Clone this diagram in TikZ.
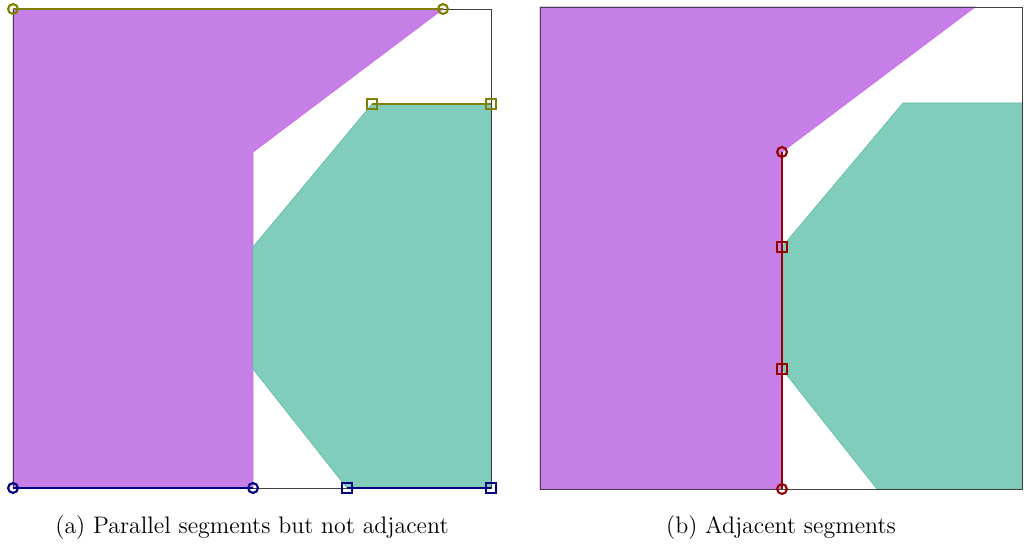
\documentclass[tikz,border=0pt]{standalone}
\usepackage{tikz}
\usetikzlibrary{positioning}

\definecolor{polyviolet}{RGB}{199,127,232}
\definecolor{polyteal}{RGB}{127,205,186}
\definecolor{segolive}{RGB}{128,128,0}
\definecolor{segnavy}{RGB}{0,0,128}
\definecolor{segred}{RGB}{150,0,0}

\tikzset{
  frame/.style={draw=black!75,line width=0.5pt},
  violetpoly/.style={fill=polyviolet,draw=polyviolet!80!magenta,line width=0.4pt},
  tealpoly/.style={fill=polyteal,draw=polyteal!80!teal,line width=0.4pt},
  seg/.style={line width=1.3pt},
  cmark/.style={circle,draw,line width=1.2pt,minimum size=5.6pt,inner sep=0pt},
  smark/.style={rectangle,draw,line width=1.2pt,minimum size=5.6pt,inner sep=0pt},
  caption/.style={font=\fontsize{13.6}{16}\selectfont,inner sep=0pt}
}

\begin{document}
\begin{tikzpicture}[x=0.02cm,y=-0.02cm]
\useasboundingbox (0,0) rectangle (1024,547);

% (a) parallel but not adjacent
\fill[violetpoly] (13,9) -- (443,9) -- (253,152) -- (253,488) -- (13,488) -- cycle;
\fill[tealpoly] (372,104) -- (491,104) -- (491,488) -- (347,488) -- (253,369) -- (253,247) -- cycle;
\draw[frame] (13,9) rectangle (491,488);
\draw[seg,segolive] (13,9) -- (443,9);
\draw[seg,segolive] (372,104) -- (491,104);
\draw[seg,segnavy] (13,488) -- (253,488);
\draw[seg,segnavy] (347,488) -- (491,488);
\node[cmark,draw=segolive] (a1) at (13,9) {};
\node[cmark,draw=segolive] (a2) at (443,9) {};
\node[smark,draw=segolive] (a3) at (372,104) {};
\node[smark,draw=segolive] (a4) at (491,104) {};
\node[cmark,draw=segnavy] (a5) at (13,488) {};
\node[cmark,draw=segnavy] (a6) at (253,488) {};
\node[smark,draw=segnavy] (a7) at (347,488) {};
\node[smark,draw=segnavy] (a8) at (491,488) {};
\node[caption] (capa) at (252,528) {(a) Parallel segments but not adjacent};

% (b) adjacent
\fill[violetpoly] (540,7) -- (975,7) -- (782,152) -- (782,489) -- (540,489) -- cycle;
\fill[tealpoly] (903,103) -- (1022,103) -- (1022,489) -- (877,489) -- (782,369) -- (782,247) -- cycle;
\draw[frame] (540,7) rectangle (1022,489);
\draw[seg,segred] (782,152) -- (782,489);
\node[cmark,draw=segred] (b1) at (782,152) {};
\node[smark,draw=segred] (b2) at (782,247) {};
\node[smark,draw=segred] (b3) at (782,369) {};
\node[cmark,draw=segred] (b4) at (782,489) {};
\node[caption] (capb) at (781,528) {(b) Adjacent segments};
\end{tikzpicture}
\end{document}
